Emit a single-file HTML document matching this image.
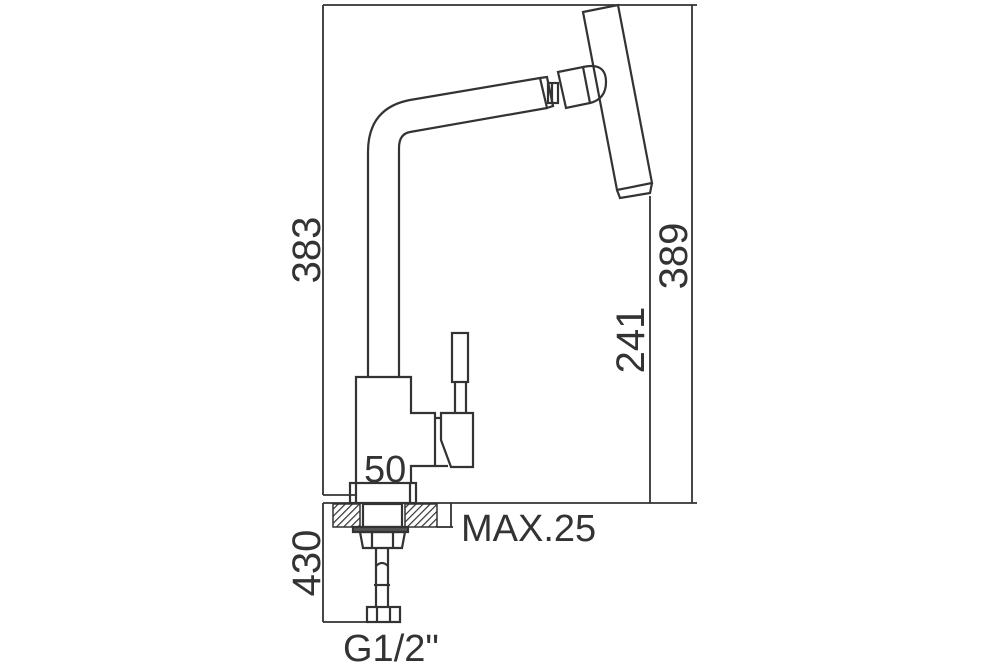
<!DOCTYPE html>
<html><head><meta charset="utf-8"><style>html,body{margin:0;padding:0;background:#fff}svg{display:block}</style></head>
<body>
<svg width="1000" height="667" viewBox="0 0 1000 667" xmlns="http://www.w3.org/2000/svg" font-family="Liberation Sans, sans-serif" fill="none" stroke="#333" stroke-width="2.2">
<defs>
<pattern id="h" width="5" height="5" patternUnits="userSpaceOnUse" patternTransform="rotate(45)"><line x1="0" y1="0" x2="0" y2="5" stroke="#333" stroke-width="2.4"/></pattern>
</defs>
<g stroke-width="1.8">
<line x1="323" y1="5" x2="697" y2="5"/>
<line x1="323" y1="5" x2="323" y2="495"/>
<line x1="323" y1="495" x2="356" y2="495"/>
<line x1="692" y1="5" x2="692" y2="503"/>
<line x1="650" y1="196" x2="650" y2="503"/>
<line x1="323" y1="503" x2="697" y2="503"/>
<line x1="323" y1="503" x2="323" y2="622"/>
<line x1="323" y1="622" x2="367" y2="622"/>
<line x1="451" y1="503" x2="451" y2="527"/>
<line x1="437" y1="527" x2="453" y2="527"/>
</g>
<path d="M368 377 L368 152 Q368 108 410 100 L540 78"/>
<path d="M399 377 L399 148 Q399 134 410 132 L547 108"/>
<path d="M540 78 L547 77 L553 106 L547 108 Z"/>
<rect x="548" y="83" width="10" height="20"/>
<line x1="552" y1="84" x2="552" y2="102"/>
<path d="M583 67 Q606 62 606 82 Q606 99 590 103"/>
<path d="M558 72 L583 67 L590 103 L566 108 Z" fill="#fff"/>
<path d="M583 12 L618 5 L652 183 L617 190 Z"/>
<path d="M617 190 L620 198 L650 193 L652 183"/>
<path d="M356 483 L356 377 L411 377 L411 413 L435 413 L435 466 L411 466 L411 483"/>
<path d="M441 413 L473 413 L473 467 L451 467 L441 440 Z"/>
<line x1="435" y1="418" x2="441" y2="418"/>
<line x1="435" y1="466" x2="448" y2="466"/>
<rect x="452" y="333" width="16" height="49"/>
<line x1="455" y1="382" x2="455" y2="413"/>
<line x1="466" y1="382" x2="466" y2="413"/>
<rect x="350" y="483" width="66" height="20"/>
<line x1="356" y1="483" x2="356" y2="503"/>
<line x1="410" y1="483" x2="410" y2="503"/>
<rect x="333" y="504" width="27" height="23" fill="url(#h)" stroke-width="1.5"/>
<rect x="405" y="504" width="32" height="23" fill="url(#h)" stroke-width="1.5"/>
<rect x="363" y="504" width="39" height="23"/>
<rect x="353" y="527" width="55" height="5" fill="#555"/>
<path d="M360 532 L405 532 L402 548 L363 548 Z"/>
<line x1="372" y1="532" x2="372" y2="548"/>
<line x1="393" y1="532" x2="393" y2="548"/>
<line x1="376" y1="548" x2="376" y2="607"/>
<line x1="388" y1="548" x2="388" y2="607"/>
<path d="M376 566 Q382 560 388 566" />
<line x1="374" y1="585" x2="390" y2="585"/>
<rect x="367" y="607" width="33" height="15"/>
<line x1="377" y1="607" x2="377" y2="622"/>
<line x1="390" y1="607" x2="390" y2="622"/>
<g fill="#333" stroke="none" font-size="40">
<text transform="translate(320,250) rotate(-90)" text-anchor="middle">383</text>
<text transform="translate(687,256) rotate(-90)" text-anchor="middle">389</text>
<text transform="translate(644,340) rotate(-90)" text-anchor="middle">241</text>
<text transform="translate(320,563) rotate(-90)" text-anchor="middle">430</text>
<text x="364" y="482" font-size="38">50</text>
<text x="461" y="541" font-size="38">MAX.25</text>
<text x="343" y="661" font-size="38">G1/2"</text>
</g>
</svg>
</body></html>
